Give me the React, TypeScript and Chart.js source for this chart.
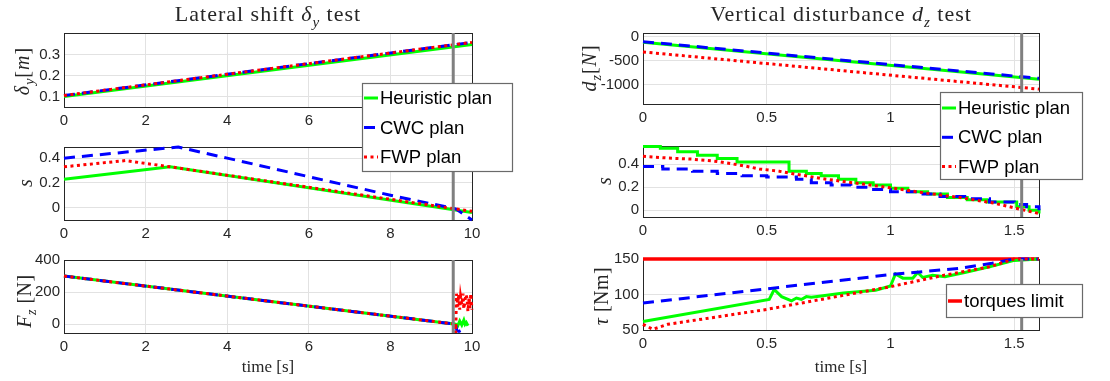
import React, { useEffect, useRef } from "react";
import { Chart, registerables } from "chart.js";
Chart.register(...registerables);

// ================= DATA =================
// Left column – Lateral shift δy test (time 0–10 s)
const dyTime = [0, 10];
const dyHeuristic = [0.1, 0.35];
const dyCwc = [0.105, 0.36];
const dyFwp = [0.105, 0.36];

const sLeftHeurT = [0, 2.6, 10];
const sLeftHeur = [0.23, 0.33, -0.04];
const sLeftCwcT = [0, 2.8, 4, 6, 8, 9.6, 10];
const sLeftCwc = [0.4, 0.49, 0.4, 0.25, 0.1, -0.01, -0.1];
const sLeftFwpT = [0, 1.5, 2.6, 10];
const sLeftFwp = [0.33, 0.38, 0.33, -0.03];

const fzHeurT = [0, 9.6, 9.65, 9.7, 9.75, 9.8, 9.83, 9.86, 9.9];
const fzHeur = [300, 0, -10, 20, -5, 25, 0, 10, -10];
const fzCwcT = [0, 9.6, 9.63, 9.68, 9.72];
const fzCwc = [300, 0, -40, -45, -40];
const fzFwpT = [0, 9.6, 9.6, 9.62, 9.65, 9.67, 9.7, 9.72, 9.75, 9.78, 9.8, 9.85, 9.88, 9.9, 9.93, 9.95, 9.97, 10];
const fzFwp = [300, 0, -55, 190, 110, 185, 90, 170, 120, 190, 95, 185, 160, 80, 170, 100, 190, 90];

const switchLeft = 9.54;
const leftTimeTicks = [0, 2, 4, 6, 8, 10];
const dyTicks = [0.1, 0.2, 0.3];
const sLeftTicks = [0, 0.2, 0.4];
const fzTicks = [0, 200, 400];

// Right column – Vertical disturbance dz test (time 0–1.6 s)
const dzTime = [0, 1.6];
const dzHeur = [-115, -885];
const dzCwc = [-100, -865];
const dzFwp = [-315, -1090];

const sRightHeurT = [0, 0.07, 0.14, 0.22, 0.3, 0.38, 0.59, 0.66, 0.72, 0.79, 0.86, 0.93, 1.0, 1.07, 1.15, 1.23, 1.31, 1.39, 1.51, 1.56, 1.6];
const sRightHeur = [0.555, 0.54, 0.51, 0.48, 0.45, 0.42, 0.34, 0.32, 0.3, 0.27, 0.24, 0.22, 0.19, 0.16, 0.14, 0.11, 0.09, 0.07, 0.03, 0.0, -0.03];
const sRightCwcT = [0, 0.08, 0.2, 0.3, 0.4, 0.5, 0.62, 0.68, 0.76, 0.84, 0.92, 1.0, 1.1, 1.2, 1.3, 1.4, 1.5, 1.55, 1.6];
const sRightCwc = [0.38, 0.36, 0.34, 0.32, 0.3, 0.29, 0.27, 0.24, 0.22, 0.2, 0.18, 0.16, 0.14, 0.12, 0.1, 0.07, 0.05, 0.03, 0.0];
const sRightFwpT = [0, 0.1, 0.2, 0.3, 0.4, 0.47, 0.55, 0.6, 0.74, 0.88, 1.0, 1.14, 1.28, 1.41, 1.5, 1.6];
const sRightFwp = [0.47, 0.455, 0.445, 0.425, 0.39, 0.36, 0.34, 0.32, 0.27, 0.23, 0.195, 0.15, 0.11, 0.065, 0.02, -0.03];

const tauHeurT = [0, 0.51, 0.53, 0.56, 0.6, 0.62, 0.64, 0.66, 0.68, 0.72, 0.81, 0.94, 1.0, 1.02, 1.05, 1.09, 1.11, 1.13, 1.17, 1.22, 1.3, 1.4, 1.5, 1.6];
const tauHeur = [62, 93, 107, 97, 91, 95, 93, 97, 96, 98, 102, 106, 112, 129, 123, 123, 131, 124, 127, 125, 131, 139, 148, 150];
const tauCwcT = [0, 0.5, 1.0, 1.28, 1.41, 1.5, 1.6];
const tauCwc = [88, 108, 128, 137, 144, 150, 150];
const tauFwpT = [0, 0.04, 0.1, 0.5, 1.0, 1.2, 1.4, 1.5, 1.6];
const tauFwp = [58, 51, 58, 79, 111, 126, 139, 150, 150];
const tauLimitT = [0, 1.6];
const tauLimit = [150, 150];

const switchRight = 1.53;
const rightTimeTicks = [0, 0.5, 1, 1.5];
const dzTicks = [-1000, -500, 0];
const sRightTicks = [0, 0.2, 0.4];
const tauTicks = [50, 100, 150];

const seriesNames = ["Heuristic plan", "CWC plan", "FWP plan"];
const limitName = "torques limit";

// ================= STYLE =================
const SANS = '"Liberation Sans", Arial, Helvetica, sans-serif';
const SERIF = '"Liberation Serif", "Times New Roman", serif';
const TICK = "#262626";
const GRID = "#e2e2e2";
const H = 381;
const X_AXIS_H = 30;

const styleHeur = { borderColor: "#00ff00", borderWidth: 3, borderDash: [] as number[], order: 3 };
const styleCwc = { borderColor: "#0000ff", borderWidth: 3, borderDash: [11, 7], order: 2 };
const styleFwp = { borderColor: "#ff0000", borderWidth: 3, borderDash: [3, 3.5], order: 1 };
const styleLimit = { borderColor: "#ff0000", borderWidth: 3.5, borderDash: [] as number[], order: 6 };
const styleSwitch = { borderColor: "#808080", borderWidth: 3, borderDash: [] as number[], order: 0 };

const pts = (xs: number[], ys: number[]) => xs.map((x, i) => ({ x, y: ys[i] }));

function ds(label: string, xs: number[], ys: number[], style: any, extra: any = {}) {
  return {
    label,
    data: pts(xs, ys),
    showLine: true,
    pointRadius: 0,
    pointHoverRadius: 0,
    borderCapStyle: "butt",
    fill: false,
    tension: 0,
    clip: 2,
    ...style,
    ...extra,
  };
}

function switchLine(x: number, ymin: number, ymax: number) {
  return ds("", [x, x], [ymin, ymax], styleSwitch, { clip: 0 });
}

// ================= PLUGIN =================
type Seg = { t: string; it?: boolean; sub?: boolean };
type TextItem = { segs: Seg[]; x: number; y: number; size: number; rot?: boolean; spacing?: number };

function drawRich(ctx: CanvasRenderingContext2D, item: TextItem) {
  const { segs, x, y, size, rot } = item;
  ctx.save();
  ctx.translate(x, y);
  if (rot) ctx.rotate(-Math.PI / 2);
  (ctx as any).letterSpacing = `${item.spacing || 0}px`;
  const fonts = segs.map((s) => `${s.it ? "italic " : ""}${s.sub ? Math.round(size * 0.7) : size}px ${SERIF}`);
  let total = 0;
  const widths = segs.map((s, i) => {
    ctx.font = fonts[i];
    const w = ctx.measureText(s.t).width;
    total += w;
    return w;
  });
  let cx = -total / 2;
  ctx.fillStyle = TICK;
  ctx.textBaseline = "alphabetic";
  ctx.textAlign = "left";
  const base = size * 0.33;
  segs.forEach((s, i) => {
    ctx.font = fonts[i];
    ctx.fillText(s.t, cx, base + (s.sub ? size * 0.25 : 0));
    cx += widths[i];
  });
  ctx.restore();
}

const decorPlugin = {
  id: "decor",
  beforeDatasetsDraw(chart: any) {
    const { ctx, chartArea: a } = chart;
    ctx.save();
    ctx.strokeStyle = "#262626";
    ctx.lineWidth = 1;
    ctx.strokeRect(Math.round(a.left) + 0.5, Math.round(a.top) + 0.5, Math.round(a.right - a.left), Math.round(a.bottom - a.top));
    ctx.restore();
  },
  afterDraw(chart: any, _args: any, opts: any) {
    const ctx: CanvasRenderingContext2D = chart.ctx;
    (opts.texts || []).forEach((t: TextItem) => drawRich(ctx, t));
    const lg = opts.legend;
    if (lg) {
      const items = chart.data.datasets.filter((d: any) => lg.labels.includes(d.label));
      items.sort((a: any, b: any) => lg.labels.indexOf(a.label) - lg.labels.indexOf(b.label));
      ctx.save();
      ctx.fillStyle = "#ffffff";
      ctx.fillRect(lg.x, lg.y, lg.w, lg.h);
      ctx.strokeStyle = "#6a6a6a";
      ctx.lineWidth = 1.2;
      ctx.strokeRect(lg.x + 0.5, lg.y + 0.5, lg.w, lg.h);
      items.forEach((d: any, i: number) => {
        const cy = lg.y + lg.first + i * lg.rowH;
        ctx.strokeStyle = d.borderColor;
        ctx.lineWidth = d.borderWidth;
        ctx.setLineDash(d.borderDash || []);
        ctx.beginPath();
        ctx.moveTo(lg.x + 2, cy);
        ctx.lineTo(lg.x + 16, cy);
        ctx.stroke();
        ctx.setLineDash([]);
        ctx.fillStyle = "#000000";
        ctx.font = `18.5px ${SANS}`;
        ctx.textBaseline = "middle";
        ctx.textAlign = "left";
        ctx.fillText(d.label, lg.x + 18, cy + 1);
      });
      ctx.restore();
    }
  },
};

// ================= CONFIG =================
const fmt = (v: number) => String(Math.round(v * 1000) / 1000);

function axes(xmin: number, xmax: number, xticks: number[], ymin: number, ymax: number, yticks: number[], yWidth: number) {
  const tickFont = { family: SANS, size: 15 };
  return {
    x: {
      type: "linear",
      min: xmin,
      max: xmax,
      afterBuildTicks: (s: any) => { s.ticks = xticks.map((v) => ({ value: v })); },
      afterFit: (s: any) => { s.height = X_AXIS_H; },
      grid: { color: GRID, drawTicks: false },
      border: { display: false },
      ticks: { padding: 5, color: TICK, font: tickFont, autoSkip: false, maxRotation: 0, callback: (v: number) => fmt(v) },
    },
    y: {
      type: "linear",
      min: ymin,
      max: ymax,
      afterBuildTicks: (s: any) => { s.ticks = yticks.map((v) => ({ value: v })); },
      afterFit: (s: any) => { s.width = yWidth; },
      grid: { color: GRID, drawTicks: false },
      border: { display: false },
      ticks: { padding: 4, color: TICK, font: tickFont, autoSkip: false, callback: (v: number) => fmt(v) },
    },
  };
}

function makeConfig(p: any) {
  return {
    type: "scatter",
    data: { datasets: p.datasets },
    options: {
      animation: false,
      responsive: false,
      devicePixelRatio: 1,
      events: [],
      layout: { padding: { top: p.top, bottom: H - p.bottom - X_AXIS_H, left: 0, right: p.right }, autoPadding: false },
      scales: axes(p.xmin, p.xmax, p.xticks, p.ymin, p.ymax, p.yticks, p.yWidth),
      plugins: {
        legend: { display: false },
        tooltip: { enabled: false },
        title: { display: false },
        decor: { texts: p.texts || [], legend: p.legend || null },
      },
    },
    plugins: [decorPlugin],
  };
}

const LW = 540;
const RW = 550;
const RX = 560;
const LABEL = 20;
const TITLE = 22;

const configs = [
  // Left top
  {
    left: 0, width: LW,
    cfg: makeConfig({
      top: 33, bottom: 107, right: LW - 472, yWidth: 64,
      xmin: 0, xmax: 10, xticks: leftTimeTicks, ymin: 0.05, ymax: 0.405, yticks: dyTicks,
      datasets: [
        ds(seriesNames[0], dyTime, dyHeuristic, styleHeur),
        ds(seriesNames[1], dyTime, dyCwc, styleCwc),
        ds(seriesNames[2], dyTime, dyFwp, styleFwp),
        switchLine(switchLeft, 0.05, 0.405),
      ],
      texts: [
        { segs: [{ t: "Lateral shift " }, { t: "δ", it: true }, { t: "y", it: true, sub: true }, { t: " test" }], x: 268, y: 14, size: TITLE, spacing: 1 },
        { segs: [{ t: "δ", it: true }, { t: "y", it: true, sub: true }, { t: "[" }, { t: "m", it: true }, { t: "]" }], x: 22, y: 71, size: LABEL, rot: true, spacing: 1 },
      ],
    }),
  },
  // Left middle
  {
    left: 0, width: LW,
    cfg: makeConfig({
      top: 147, bottom: 220, right: LW - 472, yWidth: 64,
      xmin: 0, xmax: 10, xticks: leftTimeTicks, ymin: -0.1, ymax: 0.49, yticks: sLeftTicks,
      datasets: [
        ds(seriesNames[0], sLeftHeurT, sLeftHeur, styleHeur),
        ds(seriesNames[1], sLeftCwcT, sLeftCwc, styleCwc),
        ds(seriesNames[2], sLeftFwpT, sLeftFwp, styleFwp),
        switchLine(switchLeft, -0.1, 0.49),
      ],
      texts: [{ segs: [{ t: "s", it: true }], x: 25, y: 183, size: LABEL, rot: true }],
      legend: { x: 362, y: 83, w: 150, h: 88, first: 15, rowH: 29.5, labels: seriesNames },
    }),
  },
  // Left bottom
  {
    left: 0, width: LW,
    cfg: makeConfig({
      top: 260, bottom: 333, right: LW - 472, yWidth: 64,
      xmin: 0, xmax: 10, xticks: leftTimeTicks, ymin: -55, ymax: 400, yticks: fzTicks,
      datasets: [
        ds(seriesNames[0], fzHeurT, fzHeur, styleHeur),
        ds(seriesNames[1], fzCwcT, fzCwc, styleCwc),
        ds(seriesNames[2], fzFwpT, fzFwp, styleFwp),
        switchLine(switchLeft, -55, 400),
      ],
      texts: [
        { segs: [{ t: "F", it: true }, { t: "z", it: true, sub: true }, { t: " [N]" }], x: 24, y: 301, size: LABEL, rot: true, spacing: 0.5 },
        { segs: [{ t: "time [s]" }], x: 268, y: 366, size: 17 },
      ],
    }),
  },
  // Right top
  {
    left: RX, width: RW,
    cfg: makeConfig({
      top: 33, bottom: 104, right: 1110 - 1039, yWidth: 83,
      xmin: 0, xmax: 1.6, xticks: rightTimeTicks, ymin: -1400, ymax: 80, yticks: dzTicks,
      datasets: [
        ds(seriesNames[0], dzTime, dzHeur, styleHeur),
        ds(seriesNames[1], dzTime, dzCwc, styleCwc),
        ds(seriesNames[2], dzTime, dzFwp, styleFwp),
        switchLine(switchRight, -1400, 80),
      ],
      texts: [
        { segs: [{ t: "Vertical disturbance " }, { t: "d", it: true }, { t: "z", it: true, sub: true }, { t: " test" }], x: 281, y: 14, size: TITLE, spacing: 1 },
        { segs: [{ t: "d", it: true }, { t: "z", it: true, sub: true }, { t: "[" }, { t: "N", it: true }, { t: "]" }], x: 29, y: 68, size: LABEL, rot: true, spacing: 1 },
      ],
    }),
  },
  // Right middle
  {
    left: RX, width: RW,
    cfg: makeConfig({
      top: 146, bottom: 217, right: 1110 - 1039, yWidth: 83,
      xmin: 0, xmax: 1.6, xticks: rightTimeTicks, ymin: -0.06, ymax: 0.56, yticks: sRightTicks,
      datasets: [
        ds(seriesNames[0], sRightHeurT, sRightHeur, styleHeur, { stepped: true }),
        ds(seriesNames[1], sRightCwcT, sRightCwc, styleCwc, { stepped: true }),
        ds(seriesNames[2], sRightFwpT, sRightFwp, styleFwp),
        switchLine(switchRight, -0.06, 0.56),
      ],
      texts: [{ segs: [{ t: "s", it: true }], x: 44, y: 181, size: LABEL, rot: true }],
      legend: { x: 940 - RX, y: 92, w: 142, h: 87, first: 16, rowH: 29.3, labels: seriesNames },
    }),
  },
  // Right bottom
  {
    left: RX, width: RW,
    cfg: makeConfig({
      top: 259, bottom: 330, right: 1110 - 1039, yWidth: 83,
      xmin: 0, xmax: 1.6, xticks: rightTimeTicks, ymin: 50, ymax: 150, yticks: tauTicks,
      datasets: [
        ds(limitName, tauLimitT, tauLimit, styleLimit),
        ds(seriesNames[0], tauHeurT, tauHeur, styleHeur),
        ds(seriesNames[1], tauCwcT, tauCwc, styleCwc),
        ds(seriesNames[2], tauFwpT, tauFwp, styleFwp),
        switchLine(switchRight, 50, 150),
      ],
      texts: [
        { segs: [{ t: "τ", it: true }, { t: " [Nm]" }], x: 41, y: 296, size: LABEL, rot: true, spacing: 0.5 },
        { segs: [{ t: "time [s]" }], x: 281, y: 366, size: 17 },
      ],
      legend: { x: 946 - RX, y: 284, w: 136, h: 33, first: 17, rowH: 29, labels: [limitName] },
    }),
  },
];

function Panel({ cfg, left, width }: { cfg: any; left: number; width: number }) {
  const ref = useRef<HTMLCanvasElement>(null);
  useEffect(() => {
    const chart = new Chart(ref.current as HTMLCanvasElement, cfg);
    return () => chart.destroy();
  }, [cfg]);
  return (
    <canvas
      ref={ref}
      width={width}
      height={H}
      style={{ position: "absolute", left, top: 0, width, height: H }}
    />
  );
}

export default function App() {
  return (
    <div style={{ position: "absolute", left: 0, top: 0, width: 1110, height: H, background: "#ffffff", overflow: "hidden" }}>
      {configs.map((c, i) => (
        <Panel key={i} cfg={c.cfg} left={c.left} width={c.width} />
      ))}
    </div>
  );
}
